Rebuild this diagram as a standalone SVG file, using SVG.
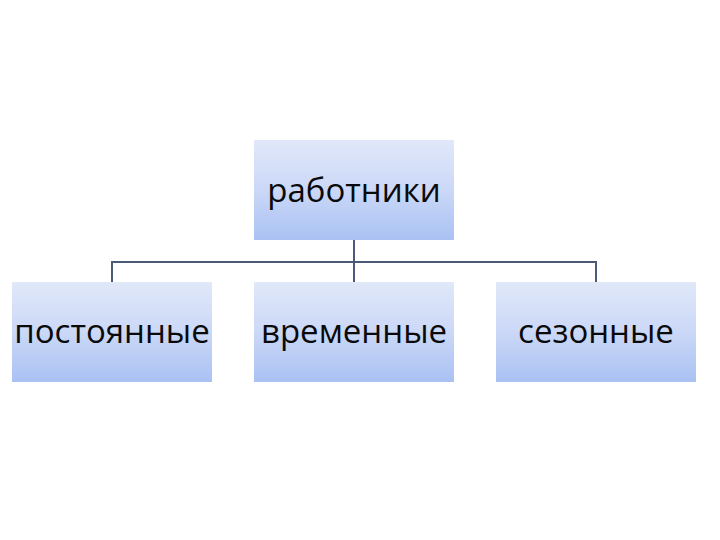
<svg xmlns="http://www.w3.org/2000/svg" width="720" height="540" viewBox="0 0 720 540">
<defs>
<linearGradient id="g" x1="0" y1="0" x2="0" y2="1">
<stop offset="0" stop-color="#e0e8f9"/>
<stop offset="0.5" stop-color="#cbd8f7"/>
<stop offset="1" stop-color="#a9c1f3"/>
</linearGradient>
<style>
.box{fill:url(#g);}
.t{font-family:"Open Sans","Liberation Sans",sans-serif;font-size:33px;fill:#0a0a0a;text-anchor:middle;}
.c{stroke:#4b5a78;stroke-width:2;fill:none;}
</style>
</defs>
<rect width="720" height="540" fill="#ffffff"/>
<g id="connectors">
<path class="c" d="M354 240V282M112 282V262H596V282"/>
</g>
<g id="n-rabotniki">
<rect class="box" x="254" y="140" width="200" height="100"/>
<text class="t" x="354" y="202">работники</text>
</g>
<g id="n-postoyannye">
<rect class="box" x="12" y="282" width="200" height="100"/>
<text class="t" x="112" y="343">постоянные</text>
</g>
<g id="n-vremennye">
<rect class="box" x="254" y="282" width="200" height="100"/>
<text class="t" x="354" y="343">временные</text>
</g>
<g id="n-sezonnye">
<rect class="box" x="496" y="282" width="200" height="100"/>
<text class="t" x="596" y="343">сезонные</text>
</g>
</svg>
